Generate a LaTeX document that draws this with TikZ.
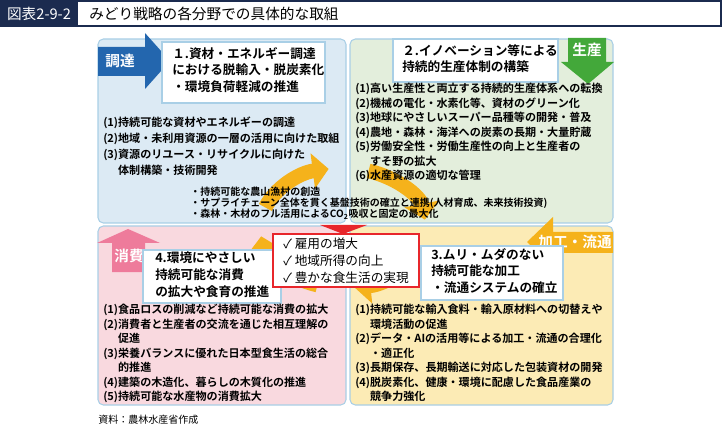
\documentclass[tikz,border=0pt]{standalone}
\usepackage{fontspec}
\setmainfont{Noto Sans CJK JP}
\newfontfamily\jpbold{Noto Sans CJK JP Bold}
\usetikzlibrary{arrows.meta}
\definecolor{navy}{HTML}{1B2B4F}
\definecolor{bluebg}{HTML}{DCEAF4}
\definecolor{greenbg}{HTML}{E3EEDC}
\definecolor{pinkbg}{HTML}{F9D9DF}
\definecolor{yellowbg}{HTML}{FCEBB5}
\definecolor{edge}{HTML}{A9CFE6}
\definecolor{ringc}{HTML}{F5B21B}
\definecolor{bluearr}{HTML}{2366AE}
\definecolor{greenarr}{HTML}{43A83A}
\definecolor{pinkarr}{HTML}{EE7B9B}
\definecolor{redc}{HTML}{E8262B}

\begin{document}
\begin{tikzpicture}[x=0.75pt,y=-0.75pt,
        quad/.style={draw=edge,line width=0.8pt,rounded corners=4pt},
        title box/.style={draw=edge,fill=white,line width=0.8pt},
        head text/.style={anchor=north west,inner sep=0,align=left,font=\jpbold\fontsize{9.5}{12.5}\selectfont},
        item list/.style={anchor=north west,inner sep=0,align=left,font=\jpbold\fontsize{8.3}{10.9}\selectfont},
        tag/.style={text=white,font=\jpbold\fontsize{11}{12}\selectfont,inner sep=0},
        ring/.style={draw=ringc,line width=11pt,-{Triangle[width=26pt,length=12pt]}}]
  \useasboundingbox (0,0) rectangle (723,427);

  % title bar
  \draw[navy,line width=0.8pt] (0,1) rectangle (721,26);
  \fill[navy] (0,1) rectangle (78,26);
  \node[text=white,font=\fontsize{11}{12}\selectfont,inner sep=0] (fig) at (39,13.5) {図表2-9-2};
  \node[anchor=west,font=\fontsize{11}{12}\selectfont,inner sep=0] (title) at (89,13.5) {みどり戦略の各分野での具体的な取組};

  % quadrants
  \draw[quad,fill=bluebg] (98,39) rectangle (346,223);
  \draw[quad,fill=greenbg] (350,39) rectangle (613,223);
  \draw[quad,fill=pinkbg] (98,226) rectangle (346,405);
  \draw[quad,fill=yellowbg] (350,226) rectangle (613,405);

  % circulation ring
  \coordinate (hub) at (343,228);
  \draw[ring] (hub) ++(160:62pt and 45pt) arc[start angle=160,end angle=100,x radius=62pt,y radius=45pt];
  \draw[ring] (hub) ++(72:62pt and 45pt) arc[start angle=72,end angle=8,x radius=62pt,y radius=45pt];
  \draw[ring] (hub) ++(-18:62pt and 45pt) arc[start angle=-18,end angle=-82,x radius=62pt,y radius=45pt];
  \draw[ring] (hub) ++(252:62pt and 45pt) arc[start angle=252,end angle=188,x radius=62pt,y radius=45pt];

  % tags
  \fill[bluearr] (98,47) -- (145,47) -- (145,33) -- (170,61) -- (145,89) -- (145,76) -- (98,76) -- cycle;
  \node[tag] (procure) at (120,61) {調達};
  \fill[greenarr] (568,38) -- (606,38) -- (606,62) -- (614,62) -- (588,84) -- (561,62) -- (568,62) -- cycle;
  \node[tag] (produce) at (587,50) {生産};
  \fill[pinkarr] (112,272) -- (112,243) -- (97,243) -- (128,229) -- (160,243) -- (145,243) -- (145,272) -- cycle;
  \node[tag] (consume) at (129,256) {消費};
  \fill[ringc] (613,232) -- (553,232) -- (553,217) -- (527,242) -- (553,267) -- (553,253) -- (613,253) -- cycle;
  \node[tag,anchor=east] (process) at (612,242) {加工・流通};

  % headline boxes
  \draw[title box] (162,42) rectangle (325,103);
  \node[head text] (h1) at (172,47) {１.資材・エネルギー調達\\における脱輸入・脱炭素化\\・環境負荷軽減の推進};
  \draw[title box] (393,39) rectangle (558,82);
  \node[head text] (h2) at (402,44) {２.イノベーション等による\\持続的生産体制の構築};
  \draw[title box] (143,250) rectangle (281,303);
  \node[head text] (h4) at (155,252) {4.環境にやさしい\\持続可能な消費\\の拡大や食育の推進};
  \draw[title box] (421,246) rectangle (563,300);
  \node[head text] (h3) at (431,248) {3.ムリ・ムダのない\\持続可能な加工\\・流通システムの確立};

  % lists
  \node[item list,font=\jpbold\fontsize{8.3}{12}\selectfont] (l1) at (103,117) {(1)持続可能な資材やエネルギーの調達\\(2)地域・未利用資源の一層の活用に向けた取組\\(3)資源のリユース・リサイクルに向けた\\\phantom{(3)}体制構築・技術開発};
  \node[item list] (l2) at (355,83) {(1)高い生産性と両立する持続的生産体系への転換\\(2)機械の電化・水素化等、資材のグリーン化\\(3)地球にやさしいスーパー品種等の開発・普及\\(4)農地・森林・海洋への炭素の長期・大量貯蔵\\(5)労働安全性・労働生産性の向上と生産者の\\\phantom{(5)}すそ野の拡大\\(6)水産資源の適切な管理};
  \node[item list] (l4) at (103,304) {(1)食品ロスの削減など持続可能な消費の拡大\\(2)消費者と生産者の交流を通じた相互理解の\\\phantom{(2)}促進\\(3)栄養バランスに優れた日本型食生活の総合\\\phantom{(3)}的推進\\(4)建築の木造化、暮らしの木質化の推進\\(5)持続可能な水産物の消費拡大};
  \node[item list] (l3) at (355,304) {(1)持続可能な輸入食料・輸入原材料への切替えや\\\phantom{(1)}環境活動の促進\\(2)データ・AIの活用等による加工・流通の合理化\\\phantom{(2)}・適正化\\(3)長期保存、長期輸送に対応した包装資材の開発\\(4)脱炭素化、健康・環境に配慮した食品産業の\\\phantom{(4)}競争力強化};

  % common measures
  \node[item list,font=\jpbold\fontsize{7.5}{8.3}\selectfont] (common) at (190,187) {・持続可能な農山漁村の創造\\・サプライチェーン全体を貫く基盤技術の確立と連携(人材育成、未来技術投資)\\・森林・木材のフル活用によるCO\textsubscript{2}吸収と固定の最大化};

  % outcome
  \fill[redc] (320,225) -- (367,225) -- (343,234) -- cycle;
  \draw[redc,line width=1.5pt,fill=white] (273,234) rectangle (419,287);
  \node[head text,font=\fontsize{9.5}{12.5}\selectfont] (goal) at (283,238) {✓ 雇用の増大\\✓ 地域所得の向上\\✓ 豊かな食生活の実現};

  \node[anchor=west,font=\fontsize{7.5}{9}\selectfont,inner sep=0] (source) at (98,420) {資料：農林水産省作成};
\end{tikzpicture}
\end{document}
